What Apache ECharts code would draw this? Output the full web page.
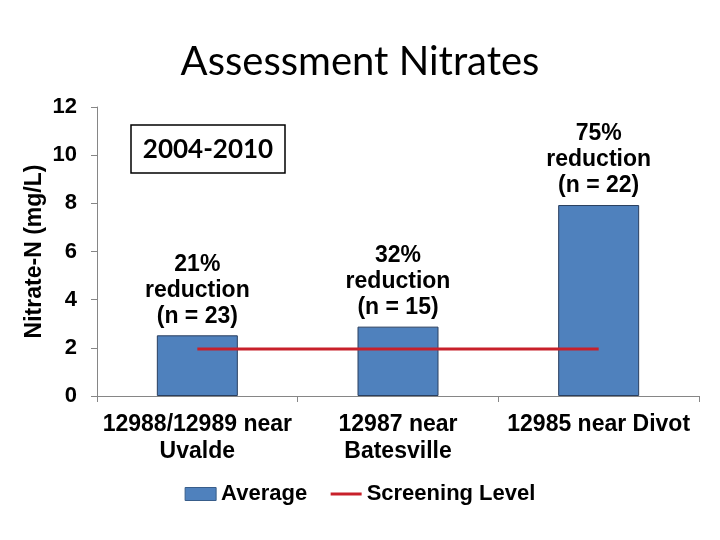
<!DOCTYPE html>
<html>
<head>
<meta charset="utf-8">
<script src="https://cdn.jsdelivr.net/npm/echarts@6/dist/echarts.min.js"></script>
<style>html,body{margin:0;padding:0;background:#fff}#c{width:720px;height:540px}</style>
</head>
<body>
<div id="c"></div>
<script>
var categories = ['12988/12989 near\nUvalde', '12987 near\nBatesville', '12985 near Divot'];
var averageValues = [2.52, 2.88, 7.93];
var screeningValues = [1.95, 1.95, 1.95];
var barLabels = ['21%\nreduction\n(n = 23)', '32%\nreduction\n(n = 15)', '75%\nreduction\n(n = 22)'];
var yTicks = [0, 2, 4, 6, 8, 10, 12];

var chart = echarts.init(document.getElementById('c'));
function bold(size) {
  return {fontFamily: 'Liberation Sans, Arial, sans-serif', fontWeight: 'bold', fontSize: size, color: '#000'};
}
chart.setOption({
  animation: false,
  title: {
    text: 'Assessment Nitrates',
    left: 'center',
    top: 37,
    textStyle: {fontFamily: 'Lato, Open Sans, sans-serif', fontWeight: 'normal', fontSize: 40, color: '#000'}
  },
  grid: {left: 97, right: 21, top: 107, bottom: 144, containLabel: false},
  legend: {
    left: 'center',
    top: 478,
    itemWidth: 31,
    itemHeight: 13,
    itemGap: 22,
    textStyle: bold(22),
    data: [
      {name: 'Average', icon: 'rect', itemStyle: {borderColor: '#385d8a', borderWidth: 1}},
      {name: 'Screening Level', lineStyle: {width: 3, color: '#c8202a'}, itemStyle: {color: 'rgba(0,0,0,0)', borderWidth: 0, opacity: 0}}
    ]
  },
  xAxis: {
    type: 'category',
    data: categories,
    axisLine: {lineStyle: {color: '#868686', width: 1}},
    axisTick: {show: true, length: 6, lineStyle: {color: '#868686'}},
    axisLabel: Object.assign({margin: 15, lineHeight: 27, interval: 0}, bold(23))
  },
  yAxis: {
    type: 'value',
    min: yTicks[0],
    max: yTicks[yTicks.length - 1],
    interval: 2,
    name: 'Nitrate-N (mg/L)',
    nameLocation: 'middle',
    nameGap: 51,
    nameMoveOverlap: false,
    nameRotate: 90,
    nameTextStyle: bold(23),
    axisLine: {show: true, lineStyle: {color: '#868686', width: 1}},
    axisTick: {show: true, length: 6, lineStyle: {color: '#868686'}},
    splitLine: {show: false},
    axisLabel: Object.assign({margin: 20}, bold(22))
  },
  series: [
    {
      name: 'Average',
      type: 'bar',
      data: averageValues,
      barWidth: 81,
      itemStyle: {color: '#4f81bd', borderColor: '#2a3f5f', borderWidth: 1},
      label: Object.assign({
        show: true,
        position: 'top',
        distance: 6,
        lineHeight: 26,
        align: 'center',
        formatter: function (p) { return barLabels[p.dataIndex]; }
      }, bold(23)),
      z: 2
    },
    {
      name: 'Screening Level',
      type: 'line',
      data: screeningValues,
      symbol: 'none',
      lineStyle: {color: '#c8202a', width: 3},
      itemStyle: {color: '#c8202a'},
      z: 3
    }
  ],
  graphic: [
    {
      type: 'rect',
      shape: {x: 131, y: 125, width: 154, height: 48},
      style: {fill: '#fff', stroke: '#000', lineWidth: 1.5},
      z: 10
    },
    {
      type: 'text',
      x: 208,
      y: 150,
      style: {
        text: '2004-2010',
        fontFamily: 'Lato, Open Sans, sans-serif',
        fontWeight: 'bold',
        fontSize: 26,
        fill: '#000',
        align: 'center',
        verticalAlign: 'middle'
      },
      z: 11
    }
  ]
});
</script>
</body>
</html>
